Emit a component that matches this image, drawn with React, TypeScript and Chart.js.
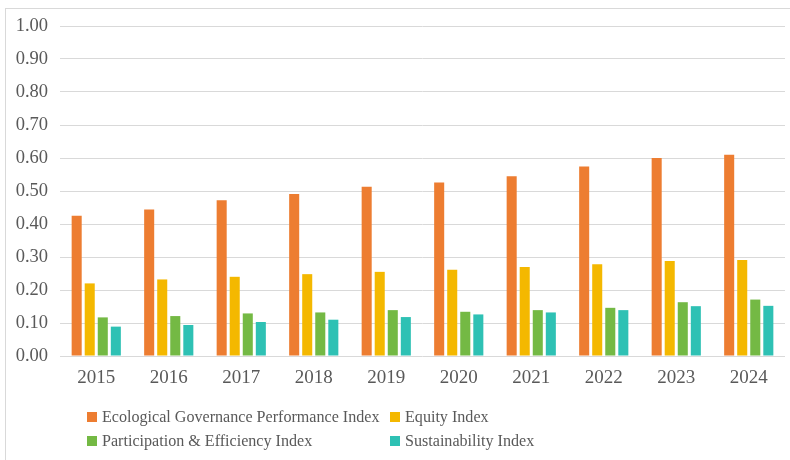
import React, { useEffect, useRef } from "react";
import { Chart, registerables } from "chart.js";

Chart.register(...registerables);

const years = ["2015", "2016", "2017", "2018", "2019", "2020", "2021", "2022", "2023", "2024"];
const ecological = [0.425, 0.444, 0.472, 0.491, 0.513, 0.526, 0.545, 0.574, 0.600, 0.610];
const equity = [0.220, 0.232, 0.240, 0.248, 0.255, 0.261, 0.270, 0.278, 0.288, 0.291];
const participation = [0.117, 0.121, 0.129, 0.132, 0.139, 0.134, 0.139, 0.146, 0.163, 0.171];
const sustainability = [0.089, 0.094, 0.103, 0.110, 0.118, 0.126, 0.132, 0.139, 0.151, 0.152];

const seriesNames = [
  "Ecological Governance Performance Index",
  "Equity Index",
  "Participation & Efficiency Index",
  "Sustainability Index",
];
const seriesColors = ["#ED7D31", "#F4B800", "#74B944", "#2EC1B4"];

const FONT = "'Liberation Serif', 'Times New Roman', serif";
const TEXT = "#595959";

export default function App() {
  const ref = useRef<HTMLCanvasElement | null>(null);

  useEffect(() => {
    if (!ref.current) return;
    const values = [ecological, equity, participation, sustainability];
    const chart = new Chart(ref.current, {
      type: "bar",
      data: {
        labels: years,
        datasets: values.map((d, i) => ({
          label: seriesNames[i],
          data: d,
          backgroundColor: seriesColors[i],
          borderWidth: 0,
          categoryPercentage: 0.72,
          barPercentage: 0.77,
        })),
      },
      options: {
        responsive: false,
        animation: false,
        layout: { padding: { top: 26, right: 5, bottom: 0, left: 0 } },
        plugins: { legend: { display: false }, tooltip: { enabled: false } },
        scales: {
          x: {
            grid: { display: false, drawTicks: false },
            border: { display: false },
            ticks: { color: TEXT, font: { family: FONT, size: 19 }, padding: 11 },
            afterFit: (s: any) => { s.height = 104; },
          },
          y: {
            min: 0,
            max: 1,
            grid: { color: "#D9D9D9", lineWidth: 1, drawTicks: false },
            border: { display: false },
            ticks: {
              stepSize: 0.1,
              color: TEXT,
              font: { family: FONT, size: 18.5 },
              padding: 12,
              callback: (v: any) => Number(v).toFixed(2),
            },
            afterFit: (s: any) => { s.width = 60; },
          },
        },
      },
    });
    return () => chart.destroy();
  }, []);

  const legendItem = (i: number, left: number, top: number) => (
    <div
      key={i}
      style={{ position: "absolute", left, top, height: 20, display: "flex", alignItems: "center", whiteSpace: "nowrap" }}
    >
      <span style={{ display: "inline-block", width: 10, height: 10, background: seriesColors[i], marginRight: 5 }} />
      <span style={{ fontFamily: FONT, fontSize: 16.1, color: TEXT }}>{seriesNames[i]}</span>
    </div>
  );

  return (
    <div style={{ position: "fixed", left: 0, top: 0, width: 790, height: 460, background: "#fff", overflow: "hidden" }}>
      <div style={{ position: "absolute", left: 5, top: 8, right: 0, bottom: 0, borderLeft: "1px solid #D9D9D9", borderTop: "1px solid #D9D9D9" }} />
      <canvas ref={ref} width={790} height={460} style={{ position: "absolute", left: 0, top: 0 }} />
      {legendItem(0, 87, 407)}
      {legendItem(1, 390, 407)}
      {legendItem(2, 87, 431)}
      {legendItem(3, 390, 431)}
    </div>
  );
}
